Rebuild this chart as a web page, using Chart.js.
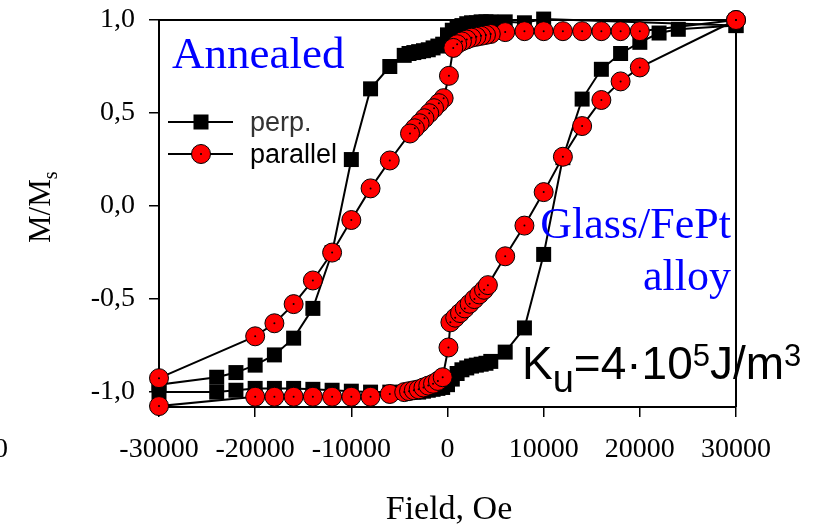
<!DOCTYPE html>
<html><head><meta charset="utf-8">
<script src="https://cdn.jsdelivr.net/npm/chart.js@4"></script>
<style>html,body{margin:0;padding:0;background:#fff}canvas{display:block}</style>
</head><body>
<canvas id="c" width="818" height="526"></canvas>
<script>
// perpendicular loop: descending branch then ascending branch
const perpField = [30000,10000,8000,6000,4500,4000,3500,3000,2500,2000,1500,1000,500,0,-500,-1000,-1500,-2000,-2500,-3000,-3500,-4000,-4500,-6000,-8000,-10000,-12000,-14000,-16000,-18000,-20000,-22000,-24000,-30000,
  -30000,-24000,-22000,-20000,-18000,-16000,-14000,-12000,-10000,-8000,-6000,-4500,-4000,-3500,-3000,-2500,-2000,-1500,-1000,-500,0,500,1000,1500,2000,2500,3000,3500,4000,4500,6000,8000,10000,12000,14000,16000,18000,20000,22000,24000,30000];
const perpM = [0.97,1.005,0.985,0.99,0.99,0.99,0.99,0.985,0.985,0.98,0.97,0.96,0.945,0.92,0.87,0.86,0.85,0.84,0.835,0.83,0.825,0.82,0.81,0.75,0.63,0.25,-0.25,-0.55,-0.71,-0.80,-0.855,-0.895,-0.92,-0.96,
  -1.0,-1.0,-0.99,-0.98,-0.98,-0.98,-0.985,-0.99,-0.995,-1.0,-1.0,-1.0,-1.0,-1.0,-1.0,-0.995,-0.99,-0.985,-0.98,-0.975,-0.96,-0.93,-0.9,-0.88,-0.87,-0.86,-0.855,-0.85,-0.845,-0.835,-0.785,-0.655,-0.26,0.26,0.575,0.735,0.82,0.88,0.93,0.95,0.97];
// parallel loop: descending branch then ascending branch
const parField = [30000,20000,18000,16000,14000,12000,10000,8000,6000,4500,4000,3500,3000,2500,2000,1500,1000,600,150,-400,-900,-1400,-1900,-2400,-2900,-3400,-3900,-6000,-8000,-10000,-12000,-14000,-16000,-18000,-20000,-30000,
  -30000,-20000,-18000,-16000,-14000,-12000,-10000,-8000,-6000,-4500,-4000,-3500,-3000,-2500,-2000,-1500,-1000,-500,100,300,800,1300,1800,2300,2800,3300,3800,4200,6000,8000,10000,12000,14000,16000,18000,20000,30000];
const parM = [1.0,0.94,0.94,0.94,0.94,0.94,0.94,0.94,0.935,0.925,0.92,0.915,0.91,0.905,0.895,0.885,0.87,0.85,0.70,0.58,0.553,0.526,0.499,0.472,0.445,0.418,0.39,0.245,0.095,-0.075,-0.25,-0.40,-0.527,-0.63,-0.70,-0.925,
  -1.075,-1.025,-1.025,-1.025,-1.025,-1.025,-1.025,-1.025,-1.01,-1.0,-0.995,-0.99,-0.985,-0.975,-0.965,-0.955,-0.94,-0.92,-0.76,-0.625,-0.6,-0.575,-0.55,-0.525,-0.5,-0.475,-0.45,-0.425,-0.27,-0.105,0.075,0.265,0.43,0.57,0.67,0.745,1.0];
const yTicks = [-1.0,-0.5,0.0,0.5,1.0];
const seriesNames = ['perp.','parallel'];

const pts = (xs, ys) => xs.map((x, i) => ({x: x, y: ys[i]}));
const SERIF = "'Liberation Serif', 'Times New Roman', serif";
const SANS = "'Liberation Sans', Arial, sans-serif";

const extras = {
  id: 'extras',
  beforeDatasetsDraw(chart) {
    const {ctx, chartArea: a} = chart;
    ctx.save();
    ctx.strokeStyle = '#000'; ctx.lineWidth = 2;
    ctx.beginPath(); ctx.moveTo(a.left, a.top); ctx.lineTo(a.right, a.top); ctx.lineTo(a.right, a.bottom); ctx.stroke();
    ctx.restore();
  },
  afterDraw(chart) {
    const ctx = chart.ctx;
    ctx.save();
    ctx.textBaseline = 'alphabetic';
    // annotations
    ctx.fillStyle = '#0000ff';
    ctx.font = '45px ' + SERIF;
    ctx.textAlign = 'left';
    ctx.fillText('Annealed', 172, 68);
    ctx.font = '44px ' + SERIF;
    ctx.textAlign = 'right';
    ctx.fillText('Glass/FePt', 731, 238);
    ctx.fillText('alloy', 731, 290);
    // K_u text
    ctx.fillStyle = '#000';
    ctx.textAlign = 'left';
    let x = 522;
    const part = (t, size, y) => { ctx.font = size + 'px ' + SANS; ctx.fillText(t, x, y); x += ctx.measureText(t).width; };
    part('K', 46, 379); part('u', 38, 392); part('=4\u00B710', 46, 379); part('5', 31, 366); part('J/m', 46, 379); part('3', 31, 366);
    // legend
    const ly = [122, 154];
    ctx.strokeStyle = '#000'; ctx.lineWidth = 2;
    ly.forEach(y => { ctx.beginPath(); ctx.moveTo(168, y); ctx.lineTo(233, y); ctx.stroke(); });
    ctx.fillStyle = '#000'; ctx.fillRect(193.5, ly[0] - 7.5, 15, 15);
    ctx.beginPath(); ctx.arc(201, ly[1], 9.5, 0, Math.PI * 2); ctx.fillStyle = '#ff0000'; ctx.fill(); ctx.lineWidth = 1; ctx.stroke();
    ctx.beginPath(); ctx.arc(201, ly[1], 1, 0, Math.PI * 2); ctx.fillStyle = '#000'; ctx.fill();
    ctx.font = '27px ' + SANS;
    ctx.fillStyle = '#333'; ctx.fillText(seriesNames[0], 250, 131);
    ctx.fillStyle = '#000'; ctx.fillText(seriesNames[1], 250, 163);
    // axis titles
    ctx.font = '34px ' + SERIF; ctx.textAlign = 'center';
    ctx.fillText('Field, Oe', 449, 519);
    ctx.save();
    ctx.translate(50, 243); ctx.rotate(-Math.PI / 2);
    ctx.textAlign = 'left';
    ctx.font = '31px ' + SERIF; ctx.fillText('M/M', 0, 0);
    const w = ctx.measureText('M/M').width;
    ctx.font = '20px ' + SERIF; ctx.fillText('s', w, 7);
    ctx.restore();
    // stray cut-off label at far left
    ctx.font = '28px ' + SERIF; ctx.textAlign = 'right';
    ctx.fillText('0', 8, 457);
    ctx.restore();
  }
};

new Chart(document.getElementById('c'), {
  type: 'scatter',
  data: {
    datasets: [
      { label: 'dots', data: pts(parField, parM), showLine: false, pointRadius: 1, pointBackgroundColor: '#000', pointBorderWidth: 0, order: 1, clip: false },
      { label: seriesNames[1], data: pts(parField, parM), showLine: true, borderColor: '#000', borderWidth: 2,
        pointStyle: 'circle', pointRadius: 9.5, pointBackgroundColor: '#ff0000', pointBorderColor: '#000', pointBorderWidth: 1, order: 2, clip: false },
      { label: seriesNames[0], data: pts(perpField, perpM), showLine: true, borderColor: '#000', borderWidth: 2,
        pointStyle: 'rect', pointRadius: 10.6, pointBackgroundColor: '#000', pointBorderColor: '#000', pointBorderWidth: 0, order: 3, clip: false }
    ]
  },
  options: {
    responsive: false, animation: false, devicePixelRatio: 1,
    layout: { padding: { top: 20, right: 82, left: 0, bottom: 0 } },
    plugins: { legend: { display: false }, tooltip: { enabled: false } },
    elements: { line: { tension: 0 } },
    scales: {
      x: {
        type: 'linear', min: -30000, max: 30000,
        afterFit(s) { s.height = 119; },
        ticks: { stepSize: 10000, color: '#000', padding: 16, font: { family: SERIF, size: 28 }, maxRotation: 0, callback: v => String(v) },
        grid: { drawOnChartArea: false, drawTicks: true, tickLength: 10, color: '#000', lineWidth: 1.5 },
        border: { display: true, color: '#000', width: 2 }
      },
      y: {
        type: 'linear', min: -1.08, max: 1.0,
        afterFit(s) { s.width = 159; },
        afterBuildTicks(s) { s.ticks = yTicks.map(v => ({ value: v })); },
        ticks: { color: '#000', padding: 14, font: { family: SERIF, size: 28, lineHeight: 0.4 }, callback: v => v.toFixed(1).replace('.', ',') },
        grid: { drawOnChartArea: false, drawTicks: true, tickLength: 10, color: '#000', lineWidth: 1.5 },
        border: { display: true, color: '#000', width: 2 }
      }
    }
  },
  plugins: [extras]
});
</script>
</body></html>
